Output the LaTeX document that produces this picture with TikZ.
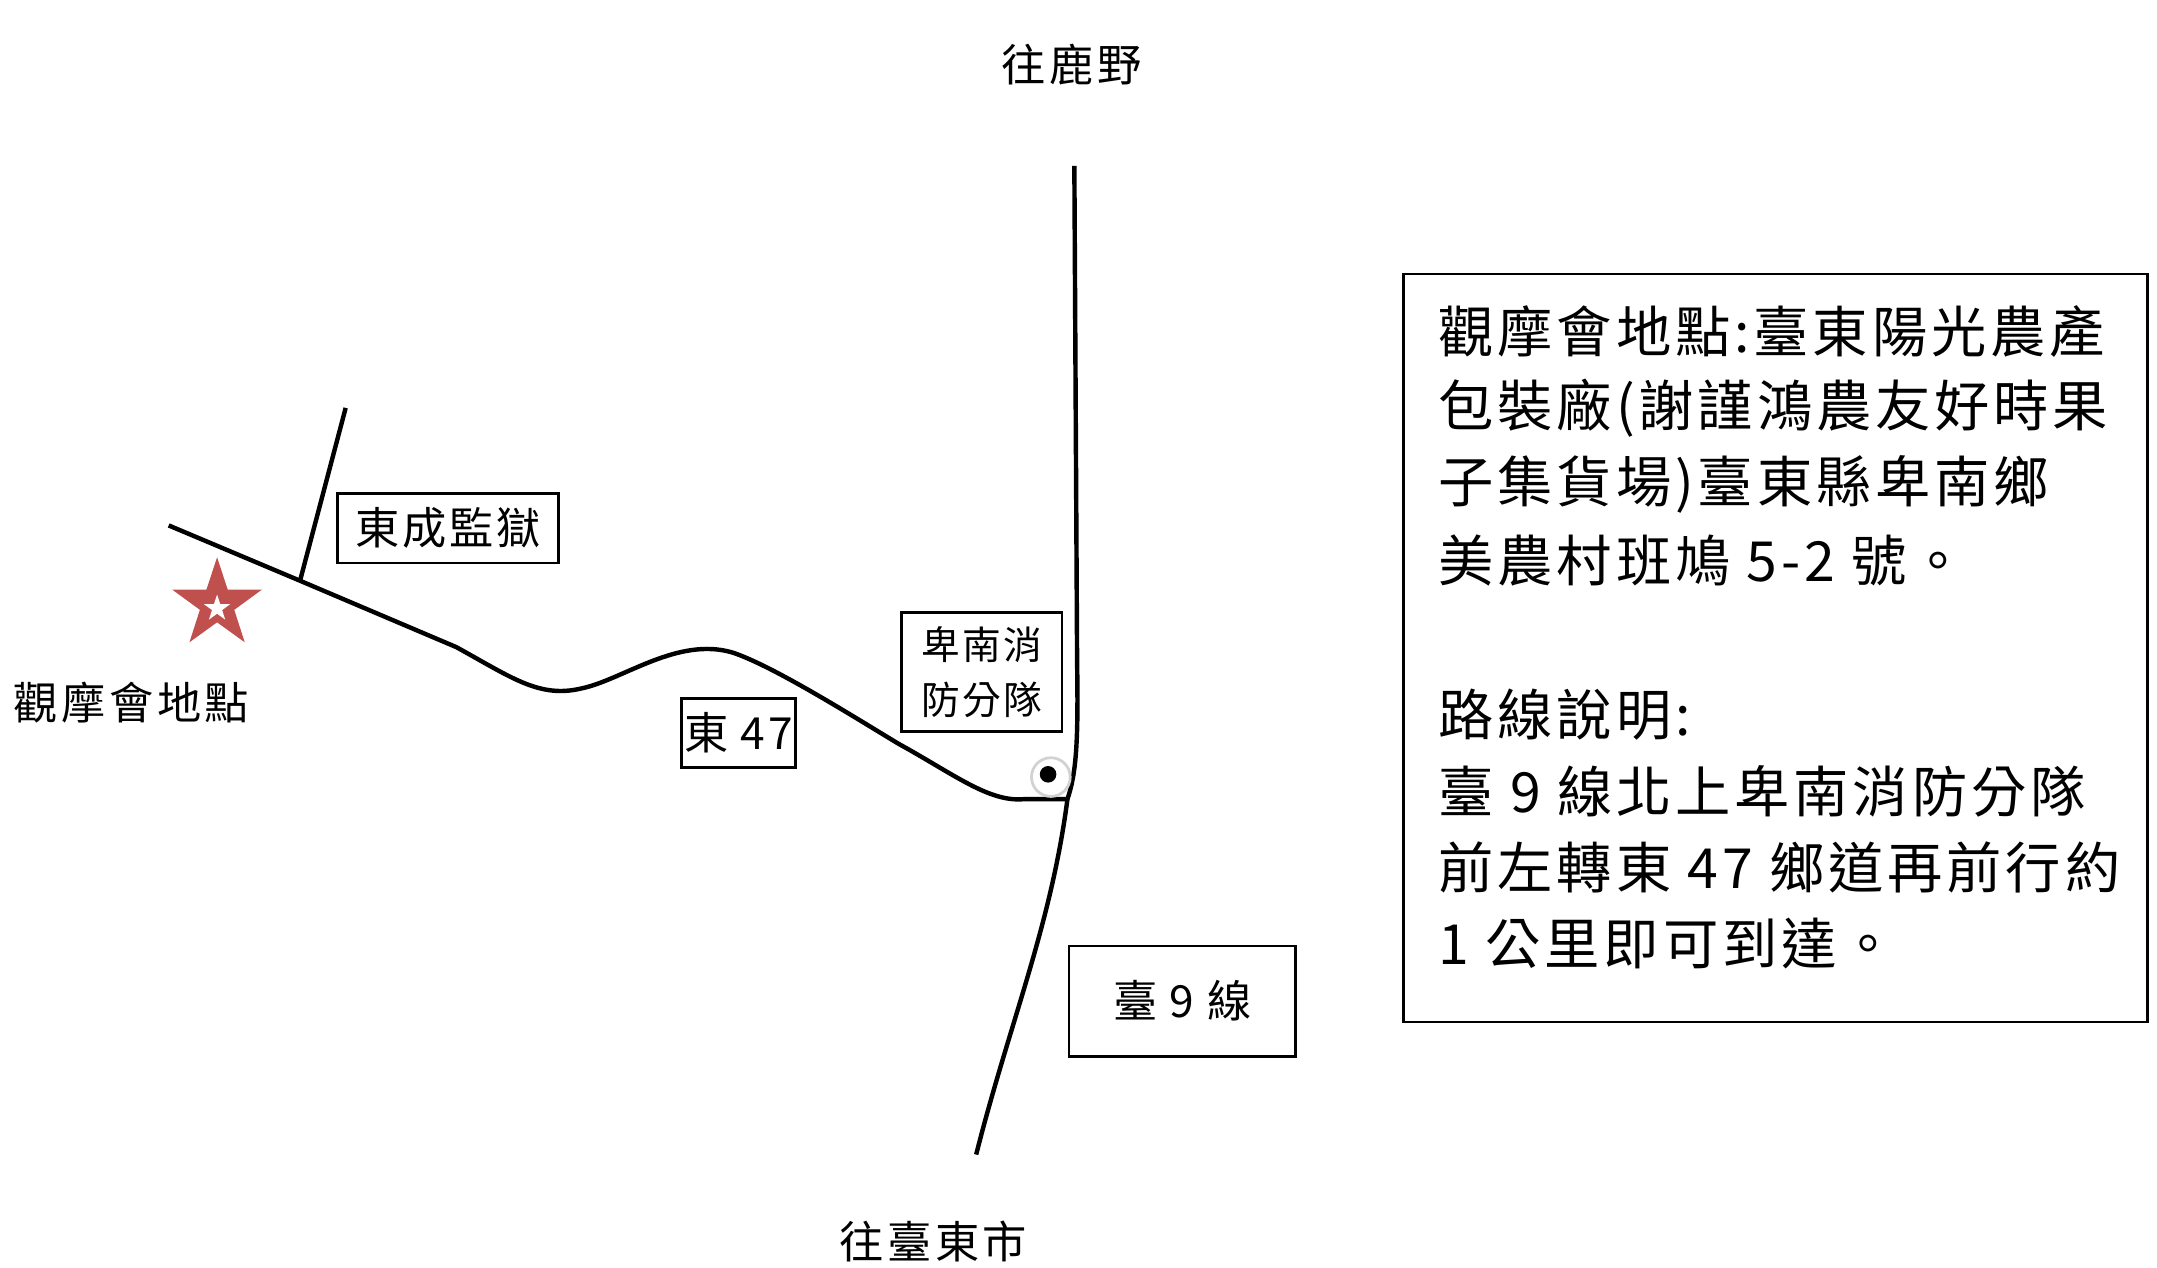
\documentclass[tikz,border=0pt]{standalone}
\usepackage{fontspec}
\setmainfont{Noto Sans CJK TC}
\usetikzlibrary{shapes.geometric}
\definecolor{starred}{RGB}{192,80,77}
\begin{document}
\begin{tikzpicture}[x=0.5pt,y=-0.5pt,
  road/.style={line width=1.6pt,line join=round},
  lab/.style={font=\fontsize{16}{18}\selectfont\addfontfeature{LetterSpace=8}},
  boxlab/.style={draw,line width=0.9pt,font=\fontsize{16}{18}\selectfont\addfontfeature{LetterSpace=6}},
  info/.style={anchor=west,inner sep=0pt,font=\fontsize{20}{22}\selectfont\addfontfeature{LetterSpace=7}}]
\useasboundingbox (0,0) rectangle (1560,917);
\node[lab] (north) at (775,47) {往鹿野};
\node[lab] (south) at (675,898) {往臺東市};
\coordinate (n0) at (777,120);
\coordinate (j) at (772,578);
\coordinate (s0) at (706,835);
\draw[road] (n0) -- (779,480) .. controls (780,540) and (778,560) .. (j) .. controls (760,670) and (730,740) .. (s0);
\coordinate (w0) at (122,380);
\coordinate (sp) at (217,420);
\coordinate (sp1) at (250,295);
\draw[road] (w0) -- (sp) -- (330,468) .. controls (370,490) and (390,505) .. (420,498)
  .. controls (450,492) and (490,460) .. (530,472) .. controls (560,482) and (620,520) .. (650,538)
  .. controls (690,560) and (715,580) .. (740,578) -- (j);
\draw[road] (sp) -- (sp1);
\node[boxlab,minimum width=80pt,minimum height=25pt] (dc) at (324,382) {東成監獄};
\node[boxlab,minimum width=39pt,minimum height=25pt,inner sep=1pt] (d47) at (534,530) {東 47};
\node[boxlab,minimum width=58pt,minimum height=43pt,align=center,font=\fontsize{14}{20}\selectfont\addfontfeature{LetterSpace=6}] (fire) at (710,486) {卑南消\\防分隊};
\node[boxlab,minimum width=82pt,minimum height=40pt] (t9) at (855,724) {臺 9 線};
\node[circle,draw=gray!35,line width=1pt,minimum size=14pt,inner sep=0pt] (ring) at (760,562) {};
\node[circle,fill=black,minimum size=6pt,inner sep=0pt] (dot) at (758,560) {};
\node[star,star points=5,star point ratio=2.6,fill=starred,minimum size=34pt,inner sep=0pt] (st) at (157,437) {};
\node[star,star points=5,star point ratio=2.6,fill=white,minimum size=10pt,inner sep=0pt] (st2) at (157,440) {};
\node[lab] (sitelab) at (95,508) {觀摩會地點};
\node[draw,line width=0.9pt,minimum width=269pt,minimum height=270.5pt] (ib) at (1284,468.5) {};
\node[info] (l1) at (1040,240) {觀摩會地點:臺東陽光農產};
\node[info] (l2) at (1040,295) {包裝廠(謝謹鴻農友好時果};
\node[info] (l3) at (1040,350) {子集貨場)臺東縣卑南鄉};
\node[info] (l4) at (1040,405) {美農村班鳩 5-2 號。};
\node[info] (l5) at (1040,517) {路線說明:};
\node[info] (l6) at (1040,572) {臺 9 線北上卑南消防分隊};
\node[info] (l7) at (1040,627) {前左轉東 47 鄉道再前行約};
\node[info] (l8) at (1040,682) {1 公里即可到達。};
\end{tikzpicture}
\end{document}
